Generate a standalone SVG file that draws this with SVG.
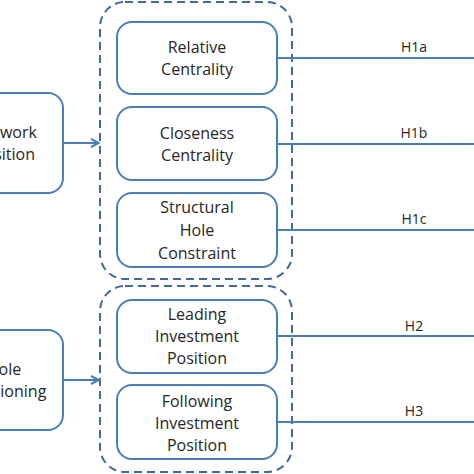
<svg xmlns="http://www.w3.org/2000/svg" width="474" height="474" viewBox="0 0 474 474">
<defs>
<marker id="arr" viewBox="0 0 10 10" refX="9" refY="5" markerWidth="10" markerHeight="10" markerUnits="userSpaceOnUse" orient="auto">
<path d="M1,1 L9,5 L1,9" fill="none" stroke="#4a7ebb" stroke-width="2"/>
</marker>
</defs>
<style>
.box{fill:#fff;stroke:#4a7ebb;stroke-width:2}
.grp{fill:none;stroke:#42689c;stroke-width:2;stroke-dasharray:8 5}
.t{font-family:"Open Sans","Liberation Sans",sans-serif;font-size:16px;fill:#262626;text-anchor:middle}
.h{font-family:"Open Sans","Liberation Sans",sans-serif;font-size:14px;fill:#262626;text-anchor:middle}
.ln{stroke:#4a7ebb;stroke-width:2;fill:none}
</style>
<rect width="474" height="474" fill="#fff"/>
<g id="group1"><rect class="grp" x="100" y="2" width="192" height="277" rx="25"/></g>
<g id="group2"><rect class="grp" x="100" y="286" width="192" height="186" rx="25"/></g>
<g id="connectors">
<line class="ln" x1="63" y1="143" x2="99" y2="143" marker-end="url(#arr)"/>
<line class="ln" x1="63" y1="380" x2="99" y2="380" marker-end="url(#arr)"/>
<line class="ln" x1="277" y1="58" x2="474" y2="58"/>
<line class="ln" x1="277" y1="144" x2="474" y2="144"/>
<line class="ln" x1="277" y1="230" x2="474" y2="230"/>
<line class="ln" x1="277" y1="336" x2="474" y2="336"/>
<line class="ln" x1="277" y1="422" x2="474" y2="422"/>
<text class="h" x="414" y="52">H1a</text>
<text class="h" x="414" y="138">H1b</text>
<text class="h" x="414" y="224">H1c</text>
<text class="h" x="414" y="331">H2</text>
<text class="h" x="414" y="416">H3</text>
</g>
<g id="network"><rect class="box" x="-60" y="93" width="123" height="100" rx="15"/>
<text class="t" x="5" y="138">Network</text><text class="t" x="5" y="160">Position</text></g>
<g id="role"><rect class="box" x="-60" y="330" width="123" height="100" rx="15"/>
<text class="t" x="5" y="375">Role</text><text class="t" x="5" y="397">Positioning</text></g>
<g id="relative"><rect class="box" x="117" y="22" width="160" height="72" rx="15"/>
<text class="t" x="197" y="53">Relative</text><text class="t" x="197" y="75">Centrality</text></g>
<g id="closeness"><rect class="box" x="117" y="107" width="160" height="73" rx="15"/>
<text class="t" x="197" y="139">Closeness</text><text class="t" x="197" y="161">Centrality</text></g>
<g id="structural"><rect class="box" x="117" y="193" width="160" height="74" rx="15"/>
<text class="t" x="197" y="213">Structural</text><text class="t" x="197" y="236">Hole</text><text class="t" x="197" y="259">Constraint</text></g>
<g id="leading"><rect class="box" x="117" y="300" width="160" height="73" rx="15"/>
<text class="t" x="197" y="320">Leading</text><text class="t" x="197" y="342">Investment</text><text class="t" x="197" y="364">Position</text></g>
<g id="following"><rect class="box" x="117" y="385" width="160" height="74" rx="15"/>
<text class="t" x="197" y="407">Following</text><text class="t" x="197" y="429">Investment</text><text class="t" x="197" y="451">Position</text></g>
</svg>
